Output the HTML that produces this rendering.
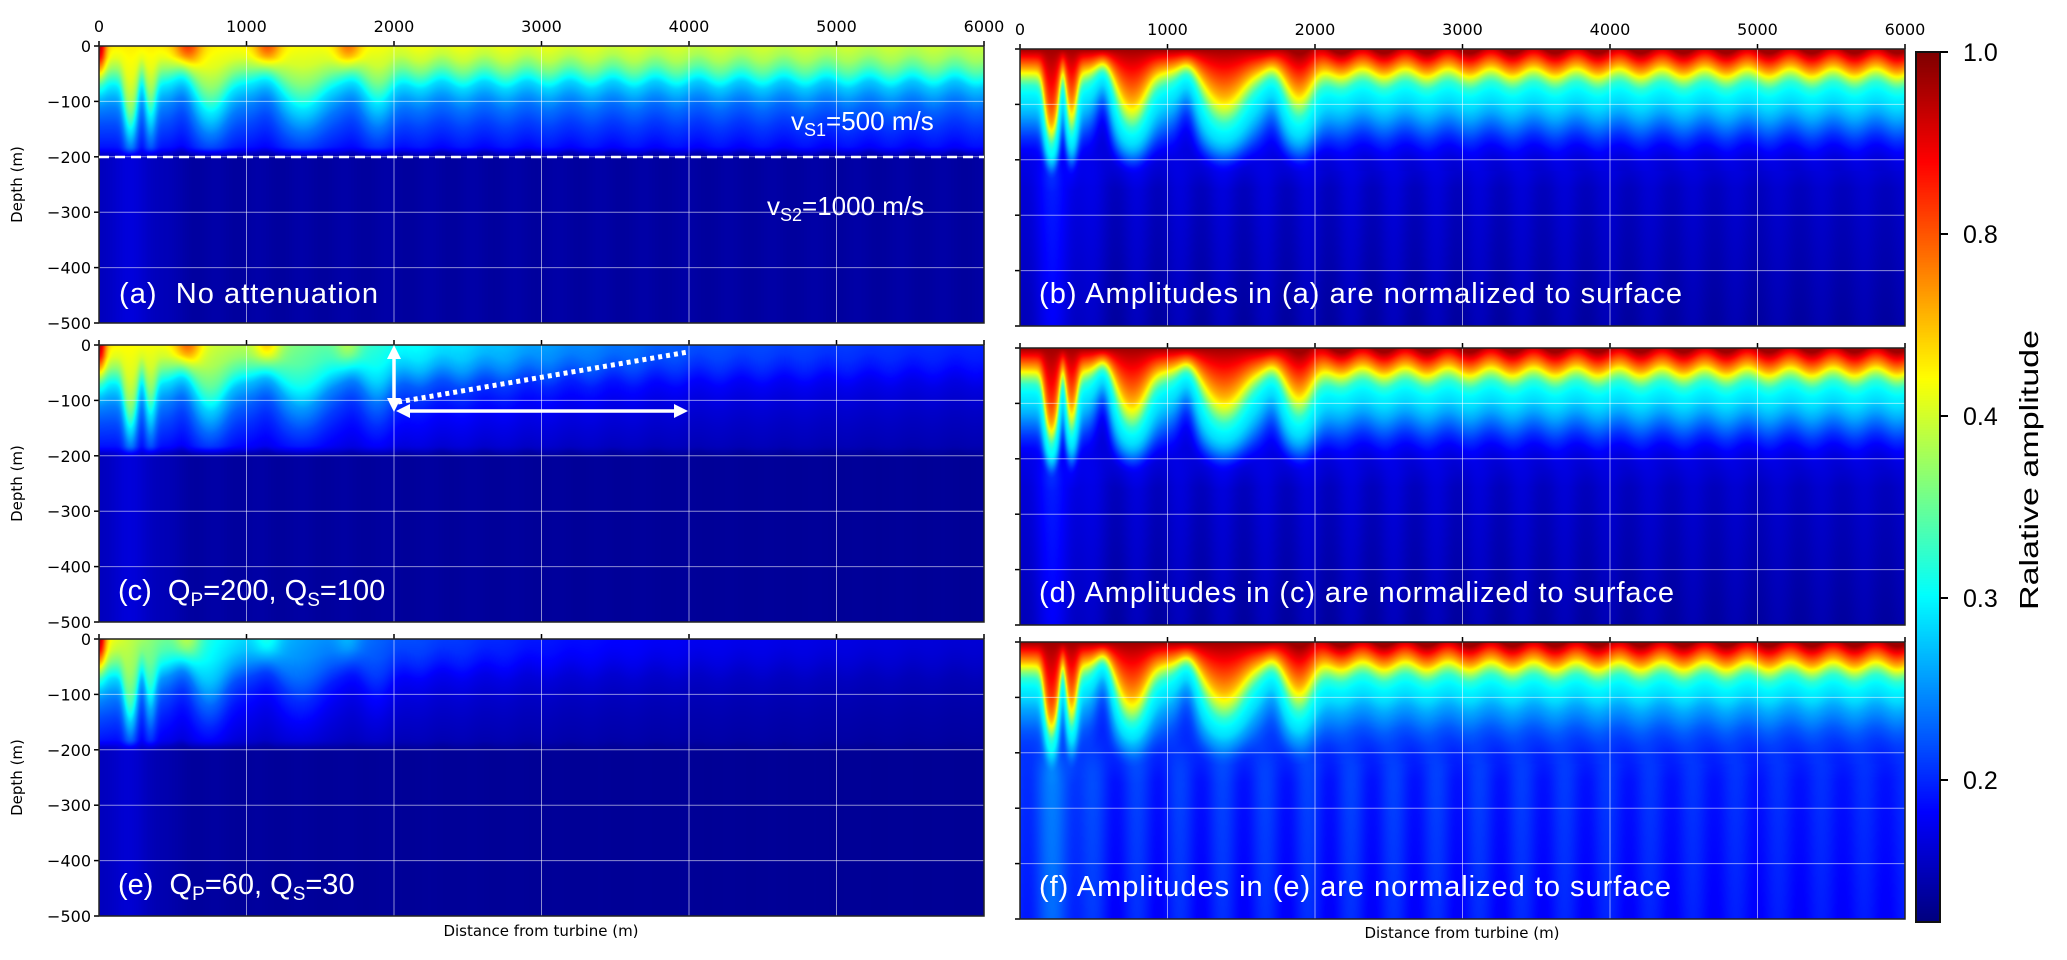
<!DOCTYPE html>
<html><head><meta charset="utf-8">
<style>
html,body{margin:0;padding:0;background:#fff;}
#wrap{position:relative;width:2067px;height:960px;overflow:hidden;}
canvas{position:absolute;}
svg{position:absolute;left:0;top:0;}
</style></head>
<body>
<div id="wrap">
<canvas id="pa" width="885" height="277" style="left:99px;top:46px"></canvas>
<canvas id="pc" width="885" height="277" style="left:99px;top:345px"></canvas>
<canvas id="pe" width="885" height="277" style="left:99px;top:639px"></canvas>
<canvas id="pb" width="885" height="277" style="left:1020px;top:49px"></canvas>
<canvas id="pd" width="885" height="277" style="left:1020px;top:348px"></canvas>
<canvas id="pf" width="885" height="277" style="left:1020px;top:642px"></canvas>
<canvas id="cb" width="24" height="870" style="left:1916px;top:52px"></canvas>
<svg id="ov" width="2067" height="960" xmlns="http://www.w3.org/2000/svg"></svg>
</div>
<script>
// ---- data arrays ----
const xTicks=[0,1000,2000,3000,4000,5000,6000];
const yTicks=[0,-100,-200,-300,-400,-500];
const cbTicks=["1.0","0.8","0.4","0.3","0.2"];
const lobeX=[210,346,755,1380,1880,290,570,1140,1730];
const lobeGain=[4.0,2.2,1.8,1.5,1.0,-0.4,-0.45,-0.4,-0.35];
const lobeW=[45,40,110,150,130,35,80,90,90];
const rawDepth=[0,20,40,55,70,90,110,140,170,190,205,260,500];
const rawT=[0.64,0.6,0.52,0.44,0.36,0.3,0.25,0.2,0.16,0.13,0.05,0.03,0.02];
const normDepth=[0,12,25,35,45,55,65,80,100,120,140,160,180,200,250,500];
const normT=[0.97,0.88,0.78,0.7,0.6,0.5,0.42,0.37,0.34,0.29,0.23,0.17,0.12,0.09,0.06,0.03];
const normTF=[0.97,0.88,0.78,0.7,0.6,0.5,0.42,0.37,0.34,0.29,0.25,0.21,0.18,0.16,0.14,0.12];
const surfBlobX=[600,1140,1690];
const surfBlobAmp=[0.18,0.17,0.15];
const attX=[0,500,1000,2000,3000,4000,6000];
const attA=[1,1,0.98,0.95,0.93,0.9,0.88];
const attC=[1,0.95,0.85,0.6,0.42,0.3,0.22];
const attE=[1,0.7,0.5,0.3,0.2,0.15,0.1];

function interp(xa,ya,v){
  if(v<=xa[0])return ya[0];
  for(let i=1;i<xa.length;i++){ if(v<=xa[i]){const f=(v-xa[i-1])/(xa[i]-xa[i-1]);return ya[i-1]+f*(ya[i]-ya[i-1]);} }
  return ya[ya.length-1];
}
function sm(a,b,v){let t=(v-a)/(b-a);t=Math.max(0,Math.min(1,t));return t*t*(3-2*t);}
function jet(t){t=Math.max(0,Math.min(1,t));
  const c=v=>Math.max(0,Math.min(1,v));
  return [c(1.5-Math.abs(4*t-3))*255,c(1.5-Math.abs(4*t-2))*255,c(1.5-Math.abs(4*t-1))*255];}

function draw(id,kind,att,gainScale,prof){
  const cv=document.getElementById(id),ctx=cv.getContext('2d');
  const W=cv.width,H=cv.height,img=ctx.createImageData(W,H),d=img.data;
  for(let px=0;px<W;px++){
    const x=px/W*6000;
    let s=0;for(let i=0;i<lobeX.length;i++)s+=lobeGain[i]*gainScale*Math.exp(-Math.pow((x-lobeX[i])/lobeW[i],2));
    const rip=7*sm(1500,2200,x)*Math.cos(2*Math.PI*x/290);
    const streak=(0.5+0.5*Math.cos(2*Math.PI*(x-210)/290));
    const a=interp(attX,att,x);
    let blob=0;for(let i=0;i<surfBlobX.length;i++)blob+=surfBlobAmp[i]*Math.exp(-Math.pow((x-surfBlobX[i])/90,2));
    for(let py=0;py<H;py++){
      const z=py/H*500;
      const se=Math.max(0.4,1+s*Math.exp(-Math.pow(z/175,4)));
      const ze=Math.max(0,z/se+rip*(z<220?1:0));
      let t;
      if(kind==='raw'){
        t=interp(rawDepth,rawT,ze);
        t+=blob*Math.exp(-Math.pow(z/35,2));
        t+=0.3*Math.exp(-Math.pow(x/45,2))*Math.exp(-Math.pow(z/60,2));
        const deep=0.03+0.05*Math.exp(-Math.pow((x-200)/250,2))+0.01*streak;
        const f=sm(180,205,z);
        t=t*(1-f)+deep*f;
        t=0.02+(t-0.02)*a;
      }else{
        t=interp(normDepth,prof,ze);
        const dd=sm(150,260,z);
        t+=dd*(kind==='f'?0.05:0.03)*streak*(1-0.4*sm(2000,6000,x));
        t+=dd*0.06*Math.exp(-Math.pow((x-230)/200,2));
      }
      const c=jet(t),k=(py*W+px)*4;
      d[k]=c[0];d[k+1]=c[1];d[k+2]=c[2];d[k+3]=255;
    }
  }
  ctx.putImageData(img,0,0);
}
draw('pa','raw',attA,0.5,null);
draw('pc','raw',attC,0.5,null);
draw('pe','raw',attE,0.5,null);
draw('pb','norm',attA,1,normT);
draw('pd','norm',attA,1.05,normT);
draw('pf','f',attA,1.1,normTF);
(function(){const cv=document.getElementById('cb'),ctx=cv.getContext('2d');
  for(let y=0;y<cv.height;y++){const c=jet(1-y/(cv.height-1));ctx.fillStyle=`rgb(${c[0]|0},${c[1]|0},${c[2]|0})`;ctx.fillRect(0,y,24,1);}})();

// ---- overlay ----
const NS='http://www.w3.org/2000/svg',ov=document.getElementById('ov');
function el(tag,attrs,parent){const e=document.createElementNS(NS,tag);for(const k in attrs)e.setAttribute(k,attrs[k]);(parent||ov).appendChild(e);return e;}
const panels=[
 {x:99,y:46,labels:true,top:true},{x:99,y:345,labels:true,top:false},{x:99,y:639,labels:true,top:false},
 {x:1020,y:49,labels:false,top:true},{x:1020,y:348,labels:false,top:false},{x:1020,y:642,labels:false,top:false}];
const PW=885,PH=277;
panels.forEach((p,pi)=>{
  const g=el('g',{});
  
  
  xTicks.forEach(v=>{const X=p.x+v/6000*PW;
    const gl=el('line',{x1:X,y1:p.y,x2:X,y2:p.y+PH,stroke:'rgba(255,255,255,0.55)','stroke-width':1},g);
    
    
    el('line',{x1:X,y1:p.y-5,x2:X,y2:p.y,stroke:'#000','stroke-width':1.5},g);
    if(p.top){const t=el('text',{x:X,y:p.y-14,'text-anchor':'middle','font-family':'DejaVu Sans, sans-serif','font-size':16},g);t.textContent=v;
      
      }
  });
  yTicks.forEach(v=>{const Y=p.y+(-v)/500*PH;
    const gl=el('line',{x1:p.x,y1:Y,x2:p.x+PW,y2:Y,stroke:'rgba(255,255,255,0.55)','stroke-width':1},g);
    
    
    el('line',{x1:p.x-5,y1:Y,x2:p.x,y2:Y,stroke:'#000','stroke-width':1.5},g);
    if(p.labels){const t=el('text',{x:p.x-8,y:Y+6,'text-anchor':'end','font-family':'DejaVu Sans, sans-serif','font-size':16},g);t.textContent=v===0?'0':'\u2212'+(-v);
      
      }
  });
  el('rect',{x:p.x,y:p.y,width:PW,height:PH,fill:'none',stroke:'#222','stroke-width':1.5},g);
  if(p.labels){const t=el('text',{x:22,y:p.y+PH/2,'text-anchor':'middle','font-family':'DejaVu Sans, sans-serif','font-size':15,transform:`rotate(-90 22 ${p.y+PH/2})`},g);t.textContent='Depth (m)';
    
    }
});
el('rect',{x:1916,y:52,width:24,height:870,fill:'none',stroke:'#111','stroke-width':2});
cbTicks.forEach((lab,i)=>{const Y=52+i*182;
  el('line',{x1:1940,y1:Y,x2:1948,y2:Y,stroke:'#000','stroke-width':2});
  const t=el('text',{x:1963,y:Y+9,'font-family':'Liberation Sans, sans-serif','font-size':25});t.textContent=lab;
  
  
});
</script>
<svg width="2067" height="960" style="position:absolute;left:0;top:0" xmlns="http://www.w3.org/2000/svg">
<g font-family="Liberation Sans, sans-serif" fill="#fff">
<text x="119" y="303" font-size="29" textLength="259" xml:space="preserve">(a)  No attenuation</text>
<text x="1039" y="303" font-size="29" textLength="643">(b) Amplitudes in (a) are normalized to surface</text>
<text x="118" y="600" font-size="29" xml:space="preserve">(c)  Q<tspan font-size="19" dy="6">P</tspan><tspan dy="-6">=200, Q</tspan><tspan font-size="19" dy="6">S</tspan><tspan dy="-6">=100</tspan></text>
<text x="1039" y="602" font-size="29" textLength="635">(d) Amplitudes in (c) are normalized to surface</text>
<text x="118" y="894" font-size="29" xml:space="preserve">(e)  Q<tspan font-size="19" dy="6">P</tspan><tspan dy="-6">=60, Q</tspan><tspan font-size="19" dy="6">S</tspan><tspan dy="-6">=30</tspan></text>
<text x="1039" y="896" font-size="29" textLength="632">(f) Amplitudes in (e) are normalized to surface</text>
<text x="791" y="130" font-size="26">v<tspan font-size="18" dy="6">S1</tspan><tspan dy="-6">=500 m/s</tspan></text>
<text x="767" y="215" font-size="26">v<tspan font-size="18" dy="6">S2</tspan><tspan dy="-6">=1000 m/s</tspan></text>
</g>
<line x1="99" y1="157" x2="984" y2="157" stroke="#fff" stroke-width="2.5" stroke-dasharray="10,6"/>
<g stroke="#fff" fill="#fff">
<line x1="394" y1="356" x2="394" y2="401" stroke-width="3.5"/>
<polygon points="394,345 387,359 401,359" stroke="none"/>
<polygon points="394,412 387,398 401,398" stroke="none"/>
<line x1="398" y1="402" x2="688" y2="352" stroke-width="5" stroke-dasharray="4,4"/>
<line x1="408" y1="411" x2="676" y2="411" stroke-width="3.5"/>
<polygon points="396,411 410,404 410,418" stroke="none"/>
<polygon points="688,411 674,404 674,418" stroke="none"/>
</g>
<g font-family="DejaVu Sans, sans-serif" font-size="15" fill="#000">
<text x="541" y="936" text-anchor="middle">Distance from turbine (m)</text>
<text x="1462" y="938" text-anchor="middle">Distance from turbine (m)</text>
</g>
<text x="2038" y="470" text-anchor="middle" font-family="Liberation Sans, sans-serif" font-size="26" textLength="280" lengthAdjust="spacingAndGlyphs" transform="rotate(-90 2038 470)">Ralative amplitude</text>
</svg>
</body></html>
